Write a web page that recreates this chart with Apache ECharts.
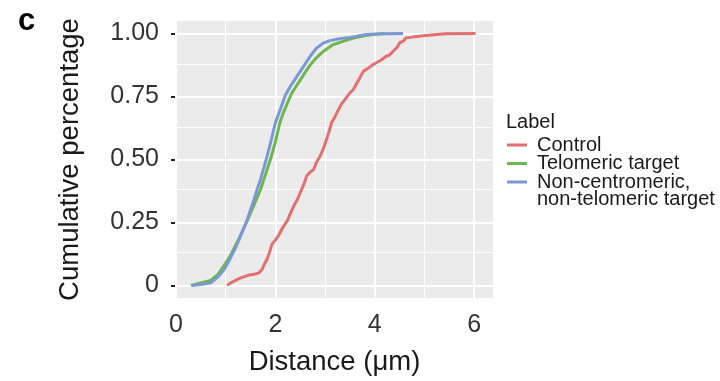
<!DOCTYPE html>
<html>
<head>
<meta charset="utf-8">
<script src="https://cdn.jsdelivr.net/npm/echarts@6/dist/echarts.min.js"></script>
<style>
  html, body { margin: 0; padding: 0; background: #ffffff; }
  #chart { width: 720px; height: 381px; }
</style>
</head>
<body>
<div id="chart"></div>
<script>
// Cumulative distribution of distances (µm) for each target class
const seriesNames = ['Control', 'Telomeric target', 'Non-centromeric, non-telomeric target'];

const controlX = [1.03, 1.1, 1.2, 1.3, 1.45, 1.57, 1.67, 1.73, 1.78, 1.83, 1.88, 1.93, 2.0, 2.07, 2.15, 2.25, 2.3, 2.37, 2.44, 2.5, 2.57, 2.63, 2.7, 2.77, 2.83, 2.9, 2.97, 3.03, 3.08, 3.13, 3.2, 3.27, 3.33, 3.4, 3.48, 3.57, 3.63, 3.7, 3.77, 3.85, 3.97, 4.03, 4.13, 4.23, 4.3, 4.37, 4.45, 4.5, 4.57, 4.63, 4.8, 5.03, 5.25, 5.43, 6.03];
const controlY = [0, 0.01, 0.02, 0.03, 0.04, 0.044, 0.05, 0.063, 0.085, 0.103, 0.13, 0.163, 0.18, 0.2, 0.23, 0.26, 0.285, 0.315, 0.34, 0.368, 0.4, 0.434, 0.45, 0.46, 0.49, 0.513, 0.545, 0.58, 0.61, 0.646, 0.67, 0.698, 0.72, 0.738, 0.76, 0.778, 0.8, 0.824, 0.85, 0.86, 0.877, 0.884, 0.895, 0.91, 0.915, 0.93, 0.945, 0.963, 0.97, 0.983, 0.987, 0.992, 0.996, 0.999, 1];

const telomericX = [0.3, 0.5, 0.7, 0.85, 0.97, 1.1, 1.2, 1.3, 1.43, 1.57, 1.7, 1.8, 1.9, 2.0, 2.09, 2.15, 2.23, 2.32, 2.4, 2.5, 2.57, 2.7, 2.83, 2.97, 3.15, 3.37, 3.57, 3.77, 4.0, 4.2];
const telomericY = [0, 0.01, 0.02, 0.045, 0.08, 0.12, 0.16, 0.2, 0.255, 0.32, 0.38, 0.44, 0.5, 0.57, 0.646, 0.68, 0.718, 0.76, 0.785, 0.815, 0.837, 0.875, 0.905, 0.93, 0.955, 0.97, 0.982, 0.99, 0.997, 1];

const otherX = [0.32, 0.5, 0.7, 0.85, 0.97, 1.1, 1.2, 1.3, 1.43, 1.57, 1.63, 1.7, 1.83, 1.92, 2.0, 2.1, 2.2, 2.3, 2.4, 2.5, 2.6, 2.7, 2.83, 2.97, 3.1, 3.3, 3.5, 3.83, 4.2, 4.57];
const otherY = [0, 0.004, 0.01, 0.035, 0.063, 0.11, 0.15, 0.196, 0.26, 0.34, 0.38, 0.42, 0.51, 0.58, 0.646, 0.7, 0.755, 0.79, 0.82, 0.85, 0.88, 0.91, 0.943, 0.963, 0.972, 0.98, 0.985, 0.996, 0.999, 1];

const xTicks = [0, 2, 4, 6];
const xMinor = [1, 3, 5];
const yTicks = [0, 0.25, 0.5, 0.75, 1];
const yMinor = [0.125, 0.375, 0.625, 0.875];
const yTickLabels = ['0', '0.25', '0.50', '0.75', '1.00'];

const colors = ['#E2706F', '#6DB64E', '#7B98D4'];
const FONT = '"Liberation Sans", Arial, Helvetica, sans-serif';

function pairs(xs, ys) { return xs.map((x, i) => [x, ys[i]]); }

// white panel grid: thin minor lines, thicker major lines
const gridLines = []
  .concat(xMinor.map(v => ({ xAxis: v, lineStyle: { width: 1 } })))
  .concat(yMinor.map(v => ({ yAxis: v, lineStyle: { width: 1 } })))
  .concat(xTicks.map(v => ({ xAxis: v, lineStyle: { width: 2 } })))
  .concat(yTicks.map(v => ({ yAxis: v, lineStyle: { width: 2 } })));

const chart = echarts.init(document.getElementById('chart'), null, { renderer: 'canvas' });

chart.setOption({
  animation: false,
  grid: {
    left: 176, right: 227, top: 21, bottom: 82.5,
    show: true, backgroundColor: '#EBEBEB', borderWidth: 0
  },
  xAxis: {
    type: 'value', min: 0, max: 6.38,
    name: 'Distance (μm)', nameLocation: 'middle', nameGap: 50,
    nameTextStyle: { fontFamily: FONT, fontSize: 27.5, color: '#1a1a1a' },
    axisLine: { show: false },
    axisTick: { show: true, length: 5, lineStyle: { color: '#222', width: 2 }, customValues: xTicks },
    axisLabel: { fontFamily: FONT, fontSize: 25, color: '#333', margin: 15, customValues: xTicks },
    splitLine: { show: false }
  },
  yAxis: {
    type: 'value', min: -0.05, max: 1.05,
    name: 'Cumulative percentage', nameLocation: 'middle', nameGap: 92,
    nameTextStyle: { fontFamily: FONT, fontSize: 27.5, color: '#1a1a1a' },
    axisLine: { show: false },
    axisTick: { show: true, length: 5, lineStyle: { color: '#222', width: 2 }, customValues: yTicks },
    axisLabel: {
      fontFamily: FONT, fontSize: 25, color: '#333', margin: 17, customValues: yTicks,
      formatter: v => yTickLabels[yTicks.indexOf(v)] ?? ''
    },
    splitLine: { show: false }
  },
  legend: {
    orient: 'vertical', left: 507, top: 135, padding: 0, itemGap: -1.5,
    itemWidth: 20, itemHeight: 3, icon: 'rect',
    data: seriesNames,
    formatter: name => name === seriesNames[2] ? 'Non-centromeric,' : name,
    textStyle: { fontFamily: FONT, fontSize: 20, lineHeight: 18, color: '#1a1a1a', padding: [0, 0, 0, 5] }
  },
  graphic: [
    { type: 'text', left: 18, top: 6, style: { text: 'c', fontFamily: FONT, fontSize: 31, fontWeight: 'bold', fill: '#000' } },
    { type: 'text', left: 506, top: 112, style: { text: 'Label', fontFamily: FONT, fontSize: 20, fill: '#1a1a1a' } },
    { type: 'text', left: 537, top: 189, style: { text: 'non-telomeric target', fontFamily: FONT, fontSize: 20, fill: '#1a1a1a' } }
  ],
  series: [
    {
      type: 'line', name: '__grid', data: [[0, 0]], silent: true, z: 1,
      symbol: 'none', lineStyle: { opacity: 0 },
      markLine: {
        silent: true, symbol: 'none', z: 1, animation: false,
        label: { show: false },
        lineStyle: { color: '#ffffff', type: 'solid' },
        emphasis: { disabled: true },
        data: gridLines
      }
    },
    { type: 'line', name: seriesNames[0], data: pairs(controlX, controlY), showSymbol: false, z: 3,
      lineStyle: { color: colors[0], width: 3 }, itemStyle: { color: colors[0] } },
    { type: 'line', name: seriesNames[1], data: pairs(telomericX, telomericY), showSymbol: false, z: 3,
      lineStyle: { color: colors[1], width: 3 }, itemStyle: { color: colors[1] } },
    { type: 'line', name: seriesNames[2], data: pairs(otherX, otherY), showSymbol: false, z: 3,
      lineStyle: { color: colors[2], width: 3 }, itemStyle: { color: colors[2] } }
  ]
});
</script>
</body>
</html>
